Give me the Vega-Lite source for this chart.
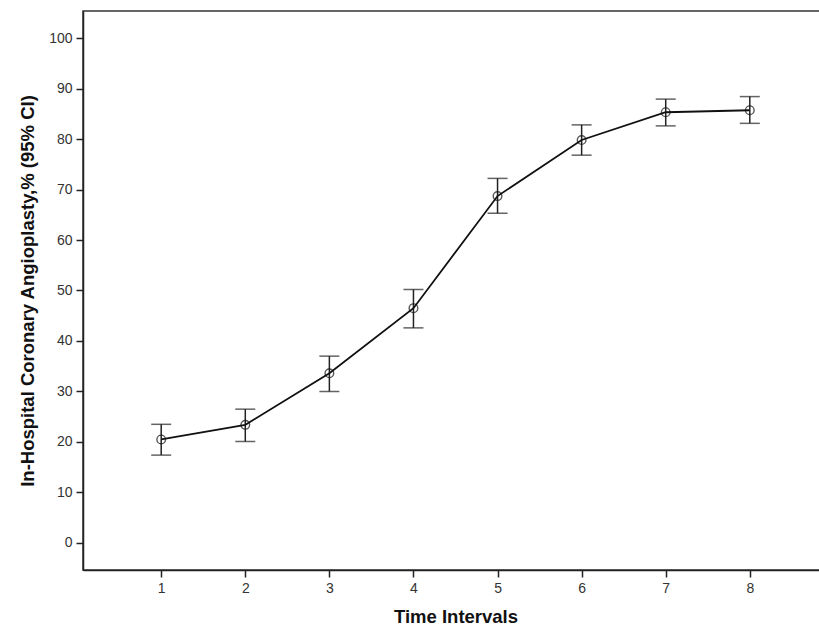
{
  "$schema": "https://vega.github.io/schema/vega-lite/v6.json",
  "width": 745,
  "height": 559,
  "autosize": "none",
  "padding": {"left": 83, "top": 11, "right": 0, "bottom": 57},
  "background": "white",
  "config": {
    "font": "Liberation Sans",
    "view": {"stroke": "#333333", "strokeWidth": 1.5},
    "axis": {
      "grid": false,
      "domainColor": "#222222",
      "domainWidth": 1.5,
      "tickColor": "#222222",
      "tickWidth": 1.5,
      "tickSize": 7,
      "labelFont": "Liberation Sans",
      "labelFontSize": 14,
      "labelColor": "#333333",
      "labelPadding": 4,
      "titleFont": "Liberation Sans",
      "titleFontWeight": "bold",
      "titleColor": "#111111"
    }
  },
  "data": {
    "values": [
      {"t": 1, "mean": 20.5, "lo": 17.4, "hi": 23.5},
      {"t": 2, "mean": 23.4, "lo": 20.1, "hi": 26.5},
      {"t": 3, "mean": 33.6, "lo": 30.0, "hi": 37.0},
      {"t": 4, "mean": 46.5, "lo": 42.6, "hi": 50.2},
      {"t": 5, "mean": 68.7, "lo": 65.3, "hi": 72.2},
      {"t": 6, "mean": 79.8, "lo": 76.8, "hi": 82.8},
      {"t": 7, "mean": 85.3, "lo": 82.6, "hi": 87.9},
      {"t": 8, "mean": 85.7, "lo": 83.1, "hi": 88.4}
    ]
  },
  "encoding": {
    "x": {
      "field": "t",
      "type": "quantitative",
      "scale": {"domain": [0.07, 8.93], "nice": false, "zero": false},
      "axis": {"values": [1, 2, 3, 4, 5, 6, 7, 8], "title": "Time Intervals", "titleFontSize": 18.5, "titlePadding": 12}
    }
  },
  "layer": [
    {
      "mark": {"type": "errorbar", "ticks": {"size": 20, "thickness": 1.5, "color": "#222222"}, "rule": {"strokeWidth": 1.5, "color": "#222222"}},
      "encoding": {
        "y": {
          "field": "lo",
          "type": "quantitative",
          "scale": {"domain": [-5.35, 105.35], "nice": false, "zero": false},
          "axis": {"values": [0, 10, 20, 30, 40, 50, 60, 70, 80, 90, 100], "title": "In-Hospital Coronary Angioplasty,% (95% CI)", "titleFontSize": 18.5, "titlePadding": 11}
        },
        "y2": {"field": "hi"}
      }
    },
    {
      "mark": {"type": "line", "color": "#111111", "strokeWidth": 1.8},
      "encoding": {"y": {"field": "mean", "type": "quantitative"}}
    },
    {
      "mark": {"type": "point", "shape": "circle", "filled": false, "size": 75, "color": "#111111", "strokeWidth": 1.4},
      "encoding": {"y": {"field": "mean", "type": "quantitative"}}
    }
  ]
}
